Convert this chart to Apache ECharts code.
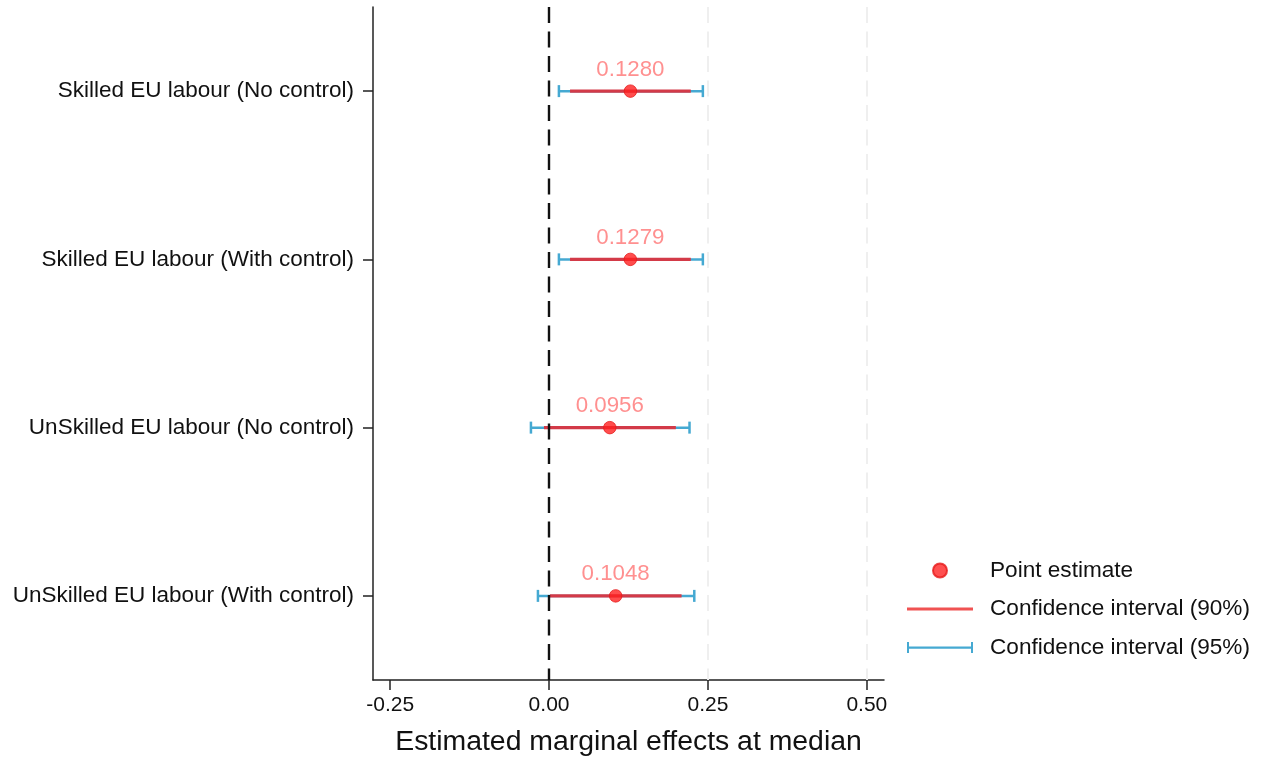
<!DOCTYPE html>
<html>
<head>
<meta charset="utf-8">
<script src="https://cdn.jsdelivr.net/npm/echarts@6/dist/echarts.min.js"></script>
<style>
html,body{margin:0;padding:0;background:#fff;}
#chart{width:1263px;height:761px;}
</style>
</head>
<body>
<div id="chart"></div>
<script>
const categories = [
  'Skilled EU labour (No control)',
  'Skilled EU labour (With control)',
  'UnSkilled EU labour (No control)',
  'UnSkilled EU labour (With control)'
];
const estimates = [0.1280, 0.1279, 0.0956, 0.1048];
const lo90 = [0.033, 0.033, -0.008, 0.0015];
const hi90 = [0.223, 0.223, 0.1995, 0.2085];
const lo95 = [0.0155, 0.0155, -0.0285, -0.0175];
const hi95 = [0.242, 0.242, 0.221, 0.2285];
const xTicks = [-0.25, 0, 0.25, 0.5];
const gridValues = [0.25, 0.5];
const xTitle = 'Estimated marginal effects at median';
const legendNames = ['Point estimate', 'Confidence interval (90%)', 'Confidence interval (95%)'];

const FONT = "'Liberation Sans', Arial, sans-serif";
const chart = echarts.init(document.getElementById('chart'), null, {renderer: 'canvas'});

const d95 = categories.map((c, i) => [lo95[i], i, hi95[i]]);
const d90 = categories.map((c, i) => [lo90[i], i, hi90[i]]);
const dPt = categories.map((c, i) => [estimates[i], i]);

const BLUE = '#45a9d2';
const RED_LINE = '#d33a48';
const RED_LEG = '#f05252';

const option = {
  backgroundColor: '#fff',
  animation: false,
  textStyle: {fontFamily: FONT},
  grid: {left: 373, right: 379, top: 7, bottom: 74, containLabel: false},
  xAxis: {
    type: 'value',
    min: -0.277,
    max: 0.527,
    name: xTitle,
    nameLocation: 'middle',
    nameGap: 48,
    nameTextStyle: {fontSize: 28.4, color: '#111', fontFamily: FONT},
    axisLine: {show: true, onZero: false, lineStyle: {color: '#222', width: 1.5}},
    axisTick: {show: true, customValues: xTicks, length: 10, lineStyle: {color: '#222', width: 1.5}},
    axisLabel: {customValues: xTicks, formatter: v => v.toFixed(2), fontSize: 21, color: '#111', margin: 15, fontFamily: FONT},
    splitLine: {show: false}
  },
  yAxis: {
    type: 'category',
    data: categories,
    inverse: true,
    axisLine: {show: true, onZero: false, lineStyle: {color: '#222', width: 1.5}},
    axisTick: {show: true, alignWithLabel: true, length: 10, lineStyle: {color: '#222', width: 1.5}},
    axisLabel: {fontSize: 22.5, color: '#111', margin: 19, fontFamily: FONT, padding: [8, 0, 0, 0]},
    splitLine: {show: false}
  },
  legend: {
    orient: 'vertical',
    left: 902,
    top: 554,
    itemWidth: 66,
    itemHeight: 14,
    itemGap: 15.5,
    symbolKeepAspect: false,
    textStyle: {fontSize: 22.6, color: '#111', fontFamily: FONT, padding: [0, 0, 0, 12], lineHeight: 22},
    data: [
      {name: legendNames[0], icon: 'circle', itemStyle: {color: '#ff2424'}},
      {name: legendNames[1], icon: 'path://M0,0 h0.01 v0.01 h-0.01 z M0,13.99 h0.01 v0.01 h-0.01 z M0,5.5 h66 v3 h-66 z', itemStyle: {color: RED_LEG}},
      {name: legendNames[2], icon: 'path://M0,0 h0.01 v0.01 h-0.01 z M0,13.99 h0.01 v0.01 h-0.01 z M0,1.5 h2 v11 h-2 z M0,6 h66 v2.2 h-66 z M64,1.5 h2 v11 h-2 z', itemStyle: {color: BLUE}}
    ]
  },
  series: [
    {
      name: legendNames[2],
      type: 'custom',
      itemStyle: {color: BLUE},
      encode: {x: 0, y: 1},
      data: d95,
      renderItem: function (params, api) {
        const y = api.value(1);
        const p1 = api.coord([api.value(0), y]);
        const p2 = api.coord([api.value(2), y]);
        const st = {stroke: BLUE, lineWidth: 2.5};
        return {
          type: 'group',
          children: [
            {type: 'line', shape: {x1: p1[0], y1: p1[1], x2: p2[0], y2: p2[1]}, style: st},
            {type: 'line', shape: {x1: p1[0], y1: p1[1] - 6, x2: p1[0], y2: p1[1] + 6}, style: st},
            {type: 'line', shape: {x1: p2[0], y1: p2[1] - 6, x2: p2[0], y2: p2[1] + 6}, style: st}
          ]
        };
      },
      markLine: {
        silent: true,
        symbol: 'none',
        label: {show: false},
        lineStyle: {color: '#efefef', width: 2, type: [16, 8.5]},
        data: gridValues.map(v => ({xAxis: v}))
      }
    },
    {
      name: legendNames[1],
      type: 'custom',
      itemStyle: {color: RED_LEG},
      encode: {x: 0, y: 1},
      data: d90,
      renderItem: function (params, api) {
        const y = api.value(1);
        const p1 = api.coord([api.value(0), y]);
        const p2 = api.coord([api.value(2), y]);
        return {type: 'line', shape: {x1: p1[0], y1: p1[1], x2: p2[0], y2: p2[1]}, style: {stroke: RED_LINE, lineWidth: 3.2}};
      }
    },
    {
      name: legendNames[0],
      type: 'scatter',
      data: dPt,
      symbol: 'circle',
      symbolSize: 12.5,
      itemStyle: {color: '#ff2020', borderColor: '#e61a1a', borderWidth: 1},
      label: {
        show: true,
        position: 'top',
        distance: 4,
        formatter: p => estimates[p.dataIndex].toFixed(4),
        color: '#ff7474',
        fontSize: 22.3,
        fontFamily: FONT
      },
      markLine: {
        silent: true,
        symbol: 'none',
        label: {show: false},
        lineStyle: {color: '#111', width: 2.4, type: [16, 8.5]},
        data: [{xAxis: 0}]
      }
    }
  ]
};
chart.setOption(option);
</script>
</body>
</html>
